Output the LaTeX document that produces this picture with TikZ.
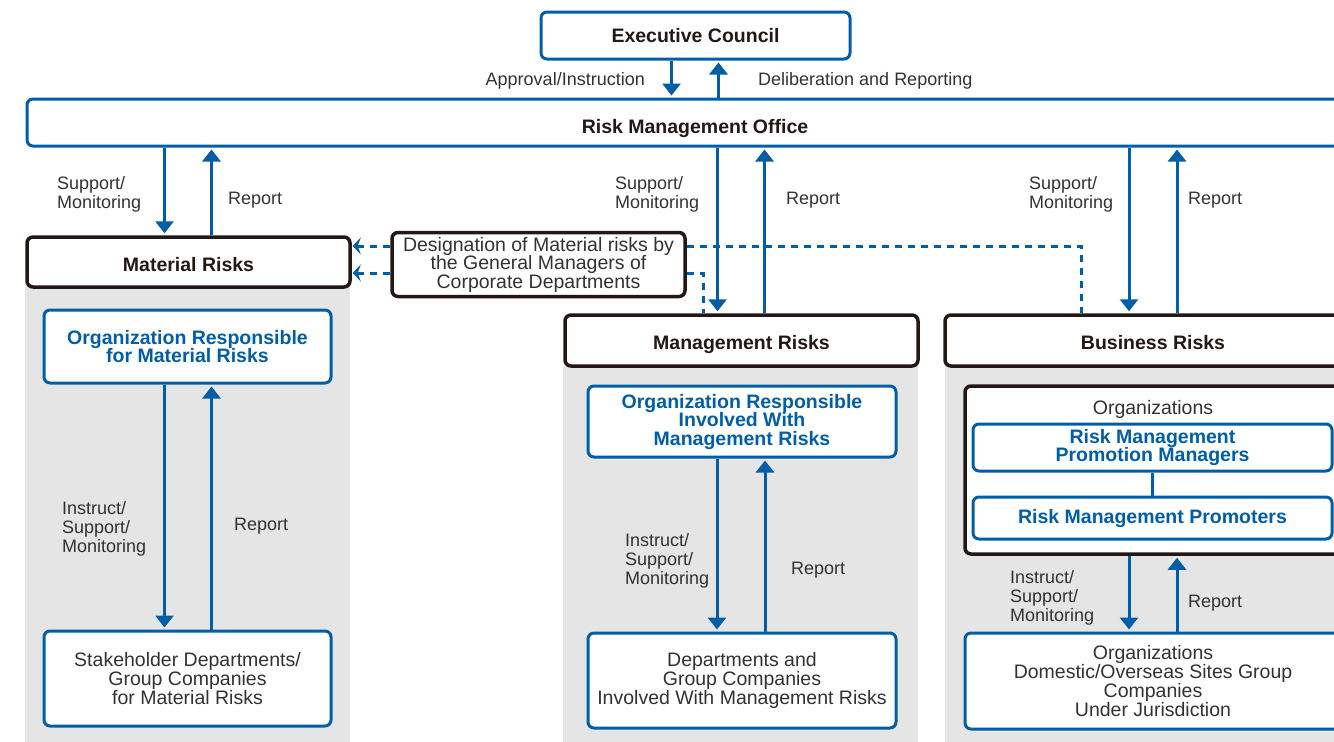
\documentclass[tikz,border=0pt]{standalone}
\usepackage{fontspec}
\setmainfont{Liberation Sans}
\usepackage{tikz}
\usetikzlibrary{arrows.meta}

\definecolor{rmblue}{RGB}{0,94,168}
\definecolor{rmink}{RGB}{35,24,21}
\definecolor{rmgray}{RGB}{229,229,229}
\definecolor{rmtext}{RGB}{50,50,50}

\begin{document}
\begin{tikzpicture}[x=1pt, y=-1pt,
  bluebox/.style={draw=rmblue, line width=3pt, rounded corners=6pt, fill=white, align=center, inner sep=0pt, text=rmtext, font=\fontsize{19.5}{19}\selectfont},
  topbox/.style={bluebox, text=rmink, font=\fontsize{19.5}{19}\selectfont\bfseries},
  orgbox/.style={bluebox, text=rmblue, font=\fontsize{19.5}{18.5}\selectfont\bfseries},
  headbox/.style={draw=rmink, line width=3.5pt, rounded corners=6pt, fill=white, align=center, inner sep=0pt, text=rmink, font=\fontsize{19.5}{19}\selectfont\bfseries},
  riskbox/.style={headbox, text height=18pt, text depth=0pt},
  lbl/.style={inner sep=0pt, align=left, text=rmtext, font=\fontsize{18}{19}\selectfont, yshift=-2pt},
  arr/.style={rmblue, line width=3pt, -{Triangle[width=18pt,length=12pt]}, shorten >=2pt},
  dsh/.style={rmblue, line width=3pt, dash pattern=on 7pt off 6pt},
  dtip/.style={-{Stealth[width=17pt,length=8pt,inset=3pt]}, shorten >=1pt},
  panel/.style={fill=rmgray}
]
\useasboundingbox (0,0) rectangle (1334,742);
\clip (0,0) rectangle (1334,742);
% gray columns
\fill[panel] (25,287) rectangle (350,742);
\fill[panel] (563,366) rectangle (918,742);
\fill[panel] (945,366) rectangle (1345,742);

\node[topbox, minimum width=309pt, minimum height=47pt] (exec) at (695.5,35.5) {Executive Council};
\node[topbox, text height=26pt, text depth=4pt, minimum width=1336pt, minimum height=47pt] (rmo) at (695,122.5) {Risk Management Office};
\node[riskbox, minimum width=323pt, minimum height=50pt] (matrisk) at (188.5,262) {Material Risks};
\node[headbox, text=rmtext, font=\fontsize{19.5}{18.5}\selectfont, minimum width=293pt, minimum height=64pt] (desig) at (538.5,264.5) {Designation of Material risks by\\the General Managers of\\Corporate Departments};
\node[riskbox, minimum width=353pt, minimum height=51pt] (mgmtrisk) at (741.5,340.5) {Management Risks};
\node[riskbox, minimum width=416pt, minimum height=51pt] (bizrisk) at (1153,340.5) {Business Risks};

\node[orgbox, minimum width=287pt, minimum height=73pt] (matorg) at (187.5,346.5) {Organization Responsible\\for Material Risks};
\node[bluebox, minimum width=287pt, minimum height=95pt] (matdept) at (187.5,678.5) {Stakeholder Departments/\\Group Companies\\for Material Risks};
\node[orgbox, minimum width=308pt, minimum height=71pt] (mgmtorg) at (742,421.5) {Organization Responsible\\Involved With\\Management Risks};
\node[bluebox, minimum width=308pt, minimum height=95pt] (mgmtdept) at (742,680.5) {Departments and\\Group Companies\\Involved With Management Risks};

\node[headbox, minimum width=376pt, minimum height=168pt] (bizorgs) at (1153,470) {};
\node[lbl, font=\fontsize{19.5}{19}\selectfont] (bizorgslbl) at (1153,407) {Organizations};
\node[orgbox, minimum width=359pt, minimum height=47pt] (promgr) at (1152.5,447.5) {Risk Management\\Promotion Managers};
\node[orgbox, minimum width=359pt, minimum height=42pt] (promoter) at (1152.5,518) {Risk Management Promoters};
\draw[rmblue, line width=3pt] (promgr) -- (promoter);
\node[bluebox, minimum width=376pt, minimum height=96pt] (bizdept) at (1153,681) {Organizations\\Domestic/Overseas Sites Group\\Companies\\Under Jurisdiction};

% council and office
\draw[arr] ([xshift=-24pt]exec.south) -- ([xshift=-24pt]exec.south |- rmo.north);
\draw[arr] ([xshift=23pt]exec.south |- rmo.north) -- ([xshift=23pt]exec.south);
\node[lbl, anchor=east] (apprlbl) at (645,79) {Approval/Instruction};
\node[lbl, anchor=west] (delblbl) at (758,79) {Deliberation and Reporting};

% office to the three risk groups
\draw[arr] ([xshift=-24pt]matrisk.north |- rmo.south) -- ([xshift=-24pt]matrisk.north);
\draw[arr] ([xshift=23pt]matrisk.north) -- ([xshift=23pt]matrisk.north |- rmo.south);
\draw[arr] ([xshift=-24pt]mgmtrisk.north |- rmo.south) -- ([xshift=-24pt]mgmtrisk.north);
\draw[arr] ([xshift=23pt]mgmtrisk.north) -- ([xshift=23pt]mgmtrisk.north |- rmo.south);
\draw[arr] ([xshift=-24pt]bizrisk.north |- rmo.south) -- ([xshift=-24pt]bizrisk.north);
\draw[arr] ([xshift=24pt]bizrisk.north) -- ([xshift=24pt]bizrisk.north |- rmo.south);
\node[lbl, anchor=west] (supl1) at (57,192) {Support/\\Monitoring};
\node[lbl, anchor=west] (repl1) at (228,198) {Report};
\node[lbl, anchor=west] (supl2) at (615,192) {Support/\\Monitoring};
\node[lbl, anchor=west] (repl2) at (786,198) {Report};
\node[lbl, anchor=west] (supl3) at (1029,192) {Support/\\Monitoring};
\node[lbl, anchor=west] (repl3) at (1188,198) {Report};

% designation (dashed)
\draw[dsh, dtip] ([yshift=18.5pt]desig.west) -- ([yshift=18.5pt]desig.west -| matrisk.east);
\draw[dsh, dtip] ([yshift=-8.5pt]desig.west) -- ([yshift=-8.5pt]desig.west -| matrisk.east);
\draw[dsh] ([yshift=18.5pt]desig.east) -| ([xshift=-72pt]bizrisk.north);
\draw[dsh] ([yshift=-8.5pt]desig.east) -| ([xshift=-38.5pt]mgmtrisk.north);

% inside the columns
\draw[arr] ([xshift=-24pt]matrisk.north |- matorg.south) -- ([xshift=-24pt]matrisk.north |- matdept.north);
\draw[arr] ([xshift=23pt]matrisk.north |- matdept.north) -- ([xshift=23pt]matrisk.north |- matorg.south);
\draw[arr] ([xshift=-24.5pt]mgmtrisk.north |- mgmtorg.south) -- ([xshift=-24.5pt]mgmtrisk.north |- mgmtdept.north);
\draw[arr] ([xshift=23.5pt]mgmtrisk.north |- mgmtdept.north) -- ([xshift=23.5pt]mgmtrisk.north |- mgmtorg.south);
\draw[arr] ([xshift=-24pt]bizrisk.north |- bizorgs.south) -- ([xshift=-24pt]bizrisk.north |- bizdept.north);
\draw[arr] ([xshift=24pt]bizrisk.north |- bizdept.north) -- ([xshift=24pt]bizrisk.north |- bizorgs.south);
\node[lbl, anchor=west] (insl1) at (62,527) {Instruct/\\Support/\\Monitoring};
\node[lbl, anchor=west] (repl4) at (234,524) {Report};
\node[lbl, anchor=west] (insl2) at (625,559) {Instruct/\\Support/\\Monitoring};
\node[lbl, anchor=west] (repl5) at (791,568) {Report};
\node[lbl, anchor=west] (insl3) at (1010,596) {Instruct/\\Support/\\Monitoring};
\node[lbl, anchor=west] (repl6) at (1188,601) {Report};
\end{tikzpicture}
\end{document}
